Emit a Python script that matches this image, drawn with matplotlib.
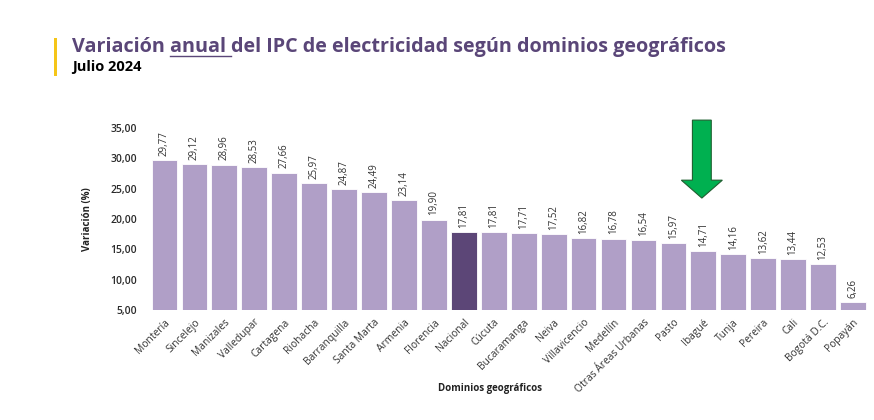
import matplotlib
matplotlib.use("Agg")
import matplotlib.pyplot as plt
from matplotlib.patches import FancyArrow, Rectangle
from matplotlib.lines import Line2D

categories = ["Montería", "Sincelejo", "Manizales", "Valledupar", "Cartagena", "Riohacha",
              "Barranquilla", "Santa Marta", "Armenia", "Florencia", "Nacional", "Cúcuta",
              "Bucaramanga", "Neiva", "Villavicencio", "Medellín", "Otras Áreas Urbanas",
              "Pasto", "Ibagué", "Tunja", "Pereira", "Cali", "Bogotá D.C.", "Popayán"]
values = [29.77, 29.12, 28.96, 28.53, 27.66, 25.97, 24.87, 24.49, 23.14, 19.90, 17.81, 17.81,
          17.71, 17.52, 16.82, 16.78, 16.54, 15.97, 14.71, 14.16, 13.62, 13.44, 12.53, 6.26]
yticks = [5, 10, 15, 20, 25, 30, 35]
highlight = "Nacional"
arrow_target = "Ibagué"

FONT = "Open Sans"
plt.rcParams['font.family'] = [FONT, 'DejaVu Sans']

LIGHT = "#b09fc7"
DARK = "#5c4677"
TXT = "#333333"

fig = plt.figure(figsize=(8.74, 4.2), dpi=100)
ax = fig.add_axes([148/874, 1-310/420, (868-148)/874, (310-128)/420])

x = list(range(len(categories)))
colors = [DARK if c == highlight else LIGHT for c in categories]
ax.bar(x, values, width=0.86, color=colors, edgecolor="white", linewidth=0.6)
ax.set_ylim(5, 35)
ax.set_xlim(-0.55, len(categories) - 0.5)

for xi, v in zip(x, values):
    ax.annotate(f"{v:.2f}".replace(".", ","), (xi, v), xytext=(0, 3), textcoords="offset points",
                rotation=90, ha="center", va="bottom", fontsize=7, color=TXT)

ax.set_yticks(yticks)
ax.set_yticklabels([f"{t:.2f}".replace(".", ",") for t in yticks], fontsize=7.5,
                   color="#2a2a2a", fontweight="semibold")
ax.set_xticks(x)
ax.set_xticklabels(categories, rotation=45, ha="right", rotation_mode="anchor",
                   fontsize=7.4, color=TXT)
ax.tick_params(axis="both", length=0)
ax.tick_params(axis="x", pad=5)
ax.tick_params(axis="y", pad=8)
for s in ax.spines.values():
    s.set_visible(False)

ax.set_ylabel("Variación (%)", fontsize=7, fontweight="bold", color="#222222", labelpad=12)
fig.text(490/874, 1-388/420, "Dominios geográficos", fontsize=7, fontweight="bold",
         color="#222222", ha="center", va="center")

# green arrow
xa = categories.index(arrow_target)
arr = FancyArrow(xa - 0.05, 36.3, 0, -12.85, width=0.63, head_width=1.37, head_length=2.95,
                 length_includes_head=True, facecolor="#00b050", edgecolor="#1f5f30",
                 linewidth=0.8, clip_on=False)
ax.add_patch(arr)

# title with underlined word
title_color = "#5a4678"
fig.patches.append(Rectangle((54/874, 1-76/420), 3/874, 38/420, transform=fig.transFigure,
                             facecolor="#f5c518", edgecolor="none"))
renderer = fig.canvas.get_renderer()
parts = ["Variación ", "anual ", "del IPC de electricidad según dominios geográficos"]
xpos = 72/874
ypos = 1-47/420
for i, p in enumerate(parts):
    t = fig.text(xpos, ypos, p, fontsize=14.2, fontweight="bold", color=title_color,
                 ha="left", va="center")
    bb = t.get_window_extent(renderer=renderer)
    if i == 1:
        yl = bb.y0 / fig.bbox.height + 0.002
        fig.lines.append(Line2D([bb.x0 / fig.bbox.width, bb.x1 / fig.bbox.width], [yl, yl],
                                transform=fig.transFigure, color=title_color, linewidth=1.0))
    xpos = bb.x1 / fig.bbox.width
fig.text(72/874, 1-67/420, "Julio 2024", fontsize=10.5, fontweight="bold", color="black",
         ha="left", va="center")

fig.savefig("out.png", dpi=100)
